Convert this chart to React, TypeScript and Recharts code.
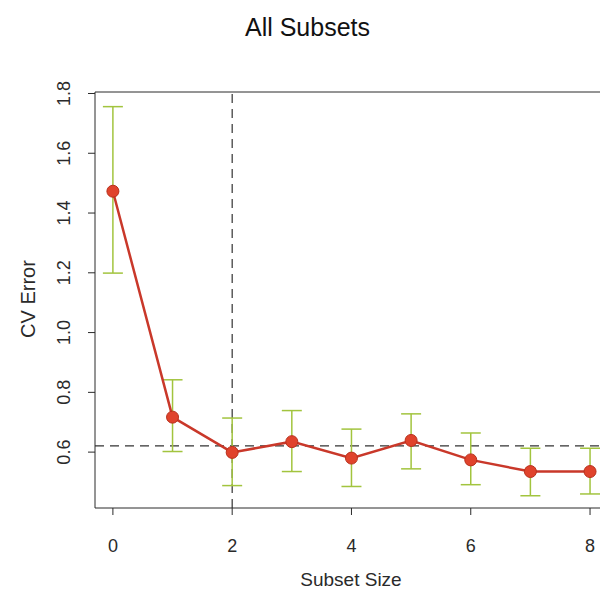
import { LineChart, Line, XAxis, YAxis, ErrorBar, ReferenceLine } from 'recharts';

const subsetSize = [0, 1, 2, 3, 4, 5, 6, 7, 8];
const cvError = [1.473, 0.717, 0.599, 0.635, 0.58, 0.639, 0.574, 0.535, 0.535];
const errUpper = [1.756, 0.842, 0.714, 0.739, 0.677, 0.728, 0.664, 0.613, 0.613];
const errLower = [1.199, 0.602, 0.488, 0.535, 0.485, 0.544, 0.491, 0.454, 0.46];
const xTicks = [0, 2, 4, 6, 8];
const yTicks = [0.6, 0.8, 1.0, 1.2, 1.4, 1.6, 1.8];
const bestSize = 2;
const oneSeLine = 0.621;

const data = subsetSize.map((s, i) => ({
  size: s,
  cv: cvError[i],
  err: [cvError[i] - errLower[i], errUpper[i] - cvError[i]],
}));

const font = '"Liberation Sans", Arial, Helvetica, sans-serif';
const ink = '#2a2a2a';

const YTick = (props: any) => {
  const { x, y, payload } = props;
  const bx = x - 16;
  return (
    <text x={bx} y={y} transform={`rotate(-90, ${bx}, ${y})`} textAnchor="middle" fill={ink} fontSize={18} fontFamily={font}>
      {payload.value.toFixed(1)}
    </text>
  );
};

const XTick = (props: any) => {
  const { x, y, payload } = props;
  return (
    <text x={x} y={y + 35} textAnchor="middle" fill={ink} fontSize={18} fontFamily={font}>
      {payload.value}
    </text>
  );
};

const Dot = (props: any) => {
  const { cx, cy, index } = props;
  return <circle key={index} cx={cx} cy={cy} r={6} fill="#e0432c" stroke="#b8301c" strokeWidth={1} />;
};

export default function App() {
  return (
    <div style={{ position: 'absolute', left: 0, top: 0, width: 600, height: 594, background: '#fff', overflow: 'hidden' }}>
      <LineChart width={600} height={594} data={data} margin={{ top: 92, right: 0, left: 40, bottom: 36 }}>
        <XAxis
          dataKey="size"
          type="number"
          domain={[-0.3, 8.167]}
          ticks={xTicks}
          allowDataOverflow
          stroke={ink}
          tickSize={7}
          tick={<XTick />}
          height={50}
        />
        <YAxis
          type="number"
          domain={[0.413, 1.805]}
          ticks={yTicks}
          allowDataOverflow
          stroke={ink}
          tickSize={7}
          tick={<YTick />}
          width={55}
        />
        <ReferenceLine y={1.805} stroke={ink} strokeWidth={1} ifOverflow="extendDomain" />
        <ReferenceLine x={bestSize} stroke="#333" strokeDasharray="9 6" strokeWidth={1.2} />
        <ReferenceLine y={oneSeLine} stroke="#333" strokeDasharray="9 6" strokeWidth={1.2} />
        <Line
          dataKey="cv"
          stroke="#c9382a"
          strokeWidth={2.5}
          dot={<Dot />}
          activeDot={false}
          isAnimationActive={false}
        >
          <ErrorBar dataKey="err" direction="y" stroke="#a2c43e" strokeWidth={1.5} width={10} />
        </Line>
      </LineChart>
      <div style={{ position: 'absolute', left: 0, top: 13, width: 615, textAlign: 'center', fontFamily: font, fontSize: 25, color: '#111' }}>
        All Subsets
      </div>
      <div style={{ position: 'absolute', left: 0, top: 569, width: 702, textAlign: 'center', fontFamily: font, fontSize: 19, color: ink }}>
        Subset Size
      </div>
      <div
        style={{
          position: 'absolute',
          left: 28 - 60,
          top: 299 - 12,
          width: 120,
          height: 24,
          lineHeight: '24px',
          textAlign: 'center',
          transform: 'rotate(-90deg)',
          fontFamily: font,
          fontSize: 20,
          color: ink,
        }}
      >
        CV Error
      </div>
    </div>
  );
}
